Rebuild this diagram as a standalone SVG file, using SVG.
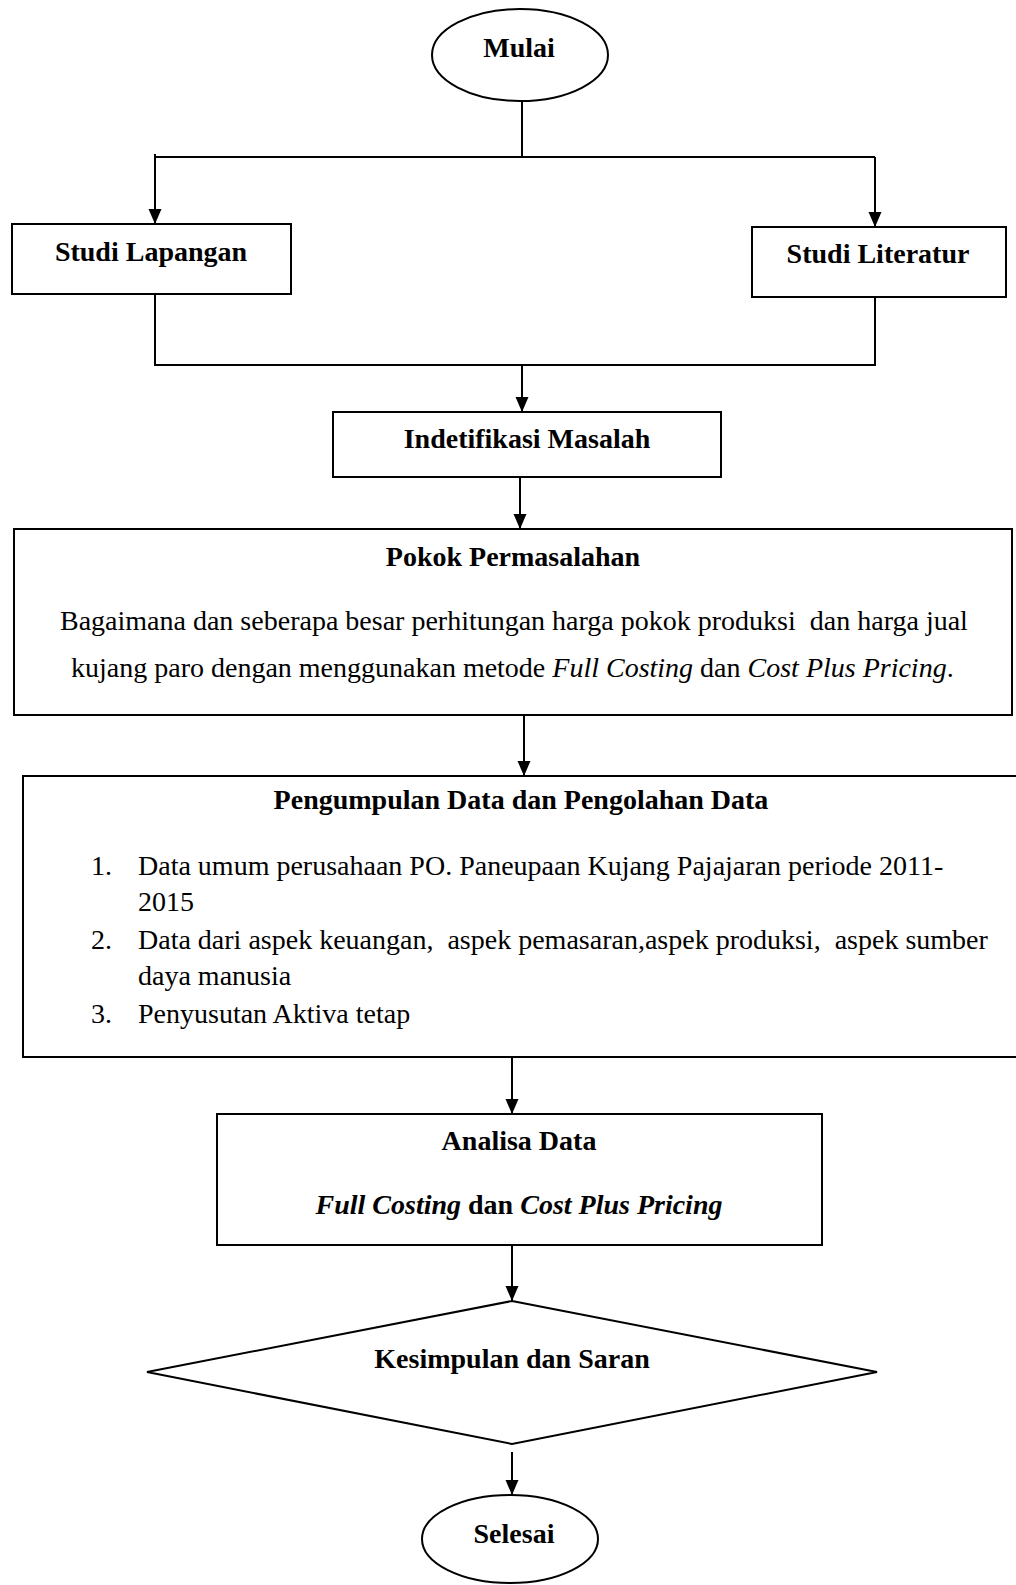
<svg xmlns="http://www.w3.org/2000/svg" width="1016" height="1585" viewBox="0 0 1016 1585">
<style>
.shape{fill:#fff;stroke:#000;stroke-width:2}
.conn{fill:none;stroke:#000;stroke-width:2}
.t{font-family:"Liberation Serif","Times New Roman",serif;font-size:28px;fill:#000}
.b{font-weight:bold}
.c{text-anchor:middle}
</style>
<defs>
<marker id="arr" markerUnits="userSpaceOnUse" markerWidth="16" markerHeight="16" viewBox="0 0 16 16" refX="15" refY="8" orient="auto">
<path d="M0,1.5 L15,8 L0,14.5 Z" fill="#000"/>
</marker>
</defs>
<rect width="1016" height="1585" fill="#fff"/>
<g id="connectors">
<path class="conn" d="M522,101 V157"/>
<path class="conn" d="M155,157 H875"/>
<path class="conn" d="M155,154 V224" marker-end="url(#arr)"/>
<path class="conn" d="M875,157 V227" marker-end="url(#arr)"/>
<path class="conn" d="M155,294 V365 H875 V297"/>
<path class="conn" d="M522,365 V412" marker-end="url(#arr)"/>
<path class="conn" d="M520,477 V529" marker-end="url(#arr)"/>
<path class="conn" d="M524,715 V776" marker-end="url(#arr)"/>
<path class="conn" d="M512,1057 V1114" marker-end="url(#arr)"/>
<path class="conn" d="M512,1245 V1301" marker-end="url(#arr)"/>
<path class="conn" d="M512,1452 V1495" marker-end="url(#arr)"/>
</g>
<g id="mulai">
<ellipse class="shape" cx="520" cy="55" rx="88" ry="46"/>
<text class="t b c" x="519" y="57">Mulai</text>
</g>
<g id="studi-lapangan">
<rect class="shape" x="12" y="224" width="279" height="70"/>
<text class="t b c" x="151" y="261">Studi Lapangan</text>
</g>
<g id="studi-literatur">
<rect class="shape" x="752" y="227" width="254" height="70"/>
<text class="t b c" x="878" y="263">Studi Literatur</text>
</g>
<g id="identifikasi">
<rect class="shape" x="333" y="412" width="388" height="65"/>
<text class="t b c" x="527" y="448">Indetifikasi Masalah</text>
</g>
<g id="pokok">
<rect class="shape" x="14" y="529" width="998" height="186"/>
<text class="t b c" x="513" y="566">Pokok Permasalahan</text>
<text class="t" x="60" y="630" xml:space="preserve">Bagaimana dan seberapa besar perhitungan harga pokok produksi  dan harga jual</text>
<text class="t" x="71" y="677">kujang paro dengan menggunakan metode <tspan font-style="italic">Full Costing</tspan> dan <tspan font-style="italic">Cost Plus Pricing</tspan>.</text>
</g>
<g id="pengumpulan">
<rect class="shape" x="23" y="776" width="1000" height="281"/>
<text class="t b c" x="521" y="809">Pengumpulan Data dan Pengolahan Data</text>
<text class="t" x="91" y="875">1.</text>
<text class="t" x="138" y="875">Data umum perusahaan PO. Paneupaan Kujang Pajajaran periode 2011-</text>
<text class="t" x="138" y="911">2015</text>
<text class="t" x="91" y="949">2.</text>
<text class="t" x="138" y="949" xml:space="preserve">Data dari aspek keuangan,  aspek pemasaran,aspek produksi,  aspek sumber</text>
<text class="t" x="138" y="985">daya manusia</text>
<text class="t" x="91" y="1023">3.</text>
<text class="t" x="138" y="1023">Penyusutan Aktiva tetap</text>
</g>
<g id="analisa">
<rect class="shape" x="217" y="1114" width="605" height="131"/>
<text class="t b c" x="519" y="1150">Analisa Data</text>
<text class="t b c" x="519" y="1214"><tspan font-style="italic">Full Costing</tspan> dan <tspan font-style="italic">Cost Plus Pricing</tspan></text>
</g>
<g id="kesimpulan">
<polygon class="shape" points="512,1301 877,1372 512,1444 147,1372"/>
<text class="t b c" x="512" y="1368">Kesimpulan dan Saran</text>
</g>
<g id="selesai">
<ellipse class="shape" cx="510" cy="1539" rx="88" ry="44"/>
<text class="t b c" x="514" y="1543">Selesai</text>
</g>
</svg>
